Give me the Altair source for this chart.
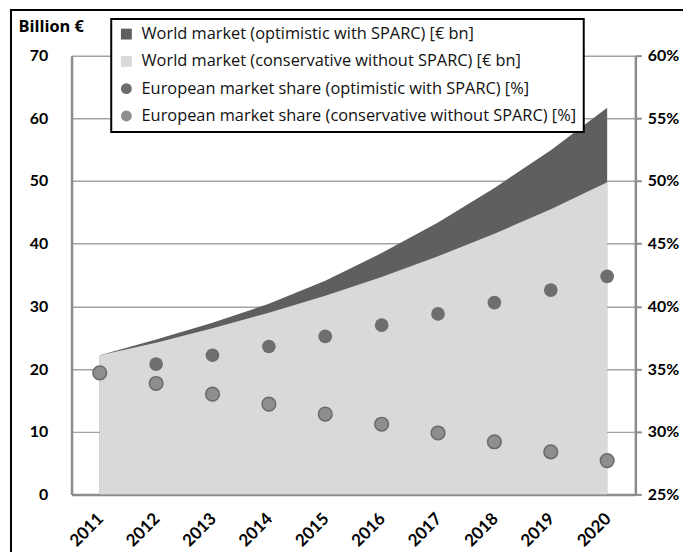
import altair as alt
import pandas as pd

years = ["2011", "2012", "2013", "2014", "2015", "2016", "2017", "2018", "2019", "2020"]
world_opt = [22.2, 24.7, 27.4, 30.4, 34.1, 38.5, 43.4, 48.9, 54.9, 61.7]
world_cons = [22.2, 24.2, 26.5, 29.0, 31.7, 34.7, 38.0, 41.6, 45.5, 49.8]
share_opt = [34.7, 35.4, 36.1, 36.8, 37.6, 38.5, 39.4, 40.3, 41.3, 42.4]
share_cons = [34.7, 33.85, 33.0, 32.2, 31.4, 30.6, 29.9, 29.2, 28.4, 27.7]

names = [
    "World market (optimistic with SPARC) [€ bn]",
    "World market (conservative without SPARC) [€ bn]",
    "European market share (optimistic with SPARC) [%]",
    "European market share (conservative without SPARC) [%]",
]
colors = ["#5f5f5f", "#d9d9d9", "#6e6e6e", "#8e8e8e"]
shapes = ["square", "square", "circle", "circle"]

df_opt = pd.DataFrame({"year": years, "value": world_opt, "series": names[0]})
df_cons = pd.DataFrame({"year": years, "value": world_cons, "series": names[1]})
df_sopt = pd.DataFrame({"year": years, "value": share_opt, "series": names[2]})
df_scons = pd.DataFrame({"year": years, "value": share_cons, "series": names[3]})

FONT = "Lato"
LFONT = "Open Sans"

xenc = alt.X(
    "year:O",
    scale=alt.Scale(type="point", padding=0.5),
    axis=alt.Axis(
        title=None, labelAngle=-45, ticks=False, labelPadding=16, labelOffset=-5,
        domainColor="#8c8c8c", domainWidth=2.5, labelFontSize=17,
        labelFontWeight="bold", labelColor="#000", labelFont=FONT,
    ),
)

legend = alt.Legend(
    title=None, orient="none", legendX=40, legendY=-37,
    fillColor="white", strokeColor="black", padding=7,
    labelFont=LFONT, labelFontSize=16.5, labelColor="#111",
    rowPadding=10.5, labelOffset=7, symbolStrokeWidth=0, labelLimit=600,
    symbolSize=120,
)
cscale = alt.Scale(domain=names, range=colors)
sscale = alt.Scale(domain=names, range=shapes)
color_enc = alt.Color("series:N", scale=cscale, legend=legend)
shape_enc = alt.Shape("series:N", scale=sscale, legend=legend)

yleft = alt.Y(
    "value:Q",
    scale=alt.Scale(domain=[0, 70]),
    axis=alt.Axis(
        values=[0, 10, 20, 30, 40, 50, 60, 70], title="Billion €", titleAngle=0,
        titleX=-54, titleY=-29, titleAlign="left", titleBaseline="middle",
        titleFont=LFONT, titleFontSize=16.5, titleFontWeight="bold", titleColor="#000",
        ticks=False, labelPadding=24, labelFontSize=16, labelFontWeight="bold",
        labelFont=FONT, labelColor="#000", domainColor="#8c8c8c", domainWidth=2.5,
        grid=True, gridColor="#a3a3a3", gridWidth=1.5,
    ),
)

area_opt = alt.Chart(df_opt).mark_area(opacity=1).encode(x=xenc, y=yleft, color=color_enc)
area_cons = alt.Chart(df_cons).mark_area(opacity=1).encode(x=xenc, y=yleft, color=color_enc)
left = alt.layer(area_opt, area_cons)

yright = alt.Y(
    "value:Q",
    scale=alt.Scale(domain=[25, 60]),
    axis=alt.Axis(
        orient="right", values=[25, 30, 35, 40, 45, 50, 55, 60], title=None,
        labelExpr="datum.value + '%'", tickSize=6, tickColor="#8c8c8c", tickWidth=2,
        labelPadding=6, labelFontSize=16, labelFontWeight="bold", labelFont=FONT,
        labelColor="#000", domainColor="#8c8c8c", domainWidth=2.5, grid=False,
    ),
)
pts_opt = alt.Chart(df_sopt).mark_point(filled=True, size=190, opacity=1).encode(
    x=xenc, y=yright, color=color_enc, shape=shape_enc,
)
pts_cons = alt.Chart(df_scons).mark_point(
    filled=True, size=190, opacity=1, stroke="#6a6a6a", strokeWidth=1.5
).encode(
    x=xenc, y=yright, color=color_enc, shape=shape_enc,
)
right = alt.layer(pts_opt, pts_cons)

frame = alt.Chart(pd.DataFrame({"a": [0]})).mark_rect(
    fill=None, stroke="black", strokeWidth=2
).encode(x=alt.value(-61), x2=alt.value(700), y=alt.value(-46), y2=alt.value(600))

chart = (
    alt.layer(left, right, frame)
    .resolve_scale(y="independent")
    .properties(
        width=568, height=442,
        padding={"left": 64, "top": 46, "right": 48, "bottom": 56},
        autosize=alt.AutoSizeParams(type="none"),
        background="white",
    )
    .configure_view(stroke=None)
    .configure_legend(strokeWidth=2)
)

chart.save("out.html", embed_options={"renderer": "svg", "actions": False})
